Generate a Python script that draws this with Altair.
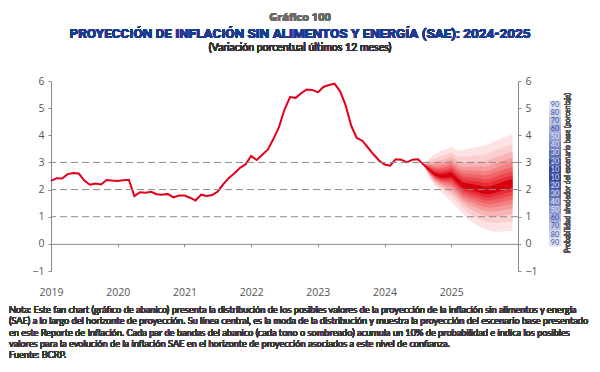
import altair as alt
import pandas as pd

# ---------------- data ----------------
year_ticks = [2019, 2020, 2021, 2022, 2023, 2024, 2025]

# monthly SAE inflation, Jan-2019 .. Sep-2024 (index 0..68)
hist_values = [
    2.32, 2.42, 2.41, 2.57, 2.61, 2.59, 2.33, 2.18, 2.22, 2.19, 2.35, 2.33,
    2.32, 2.34, 2.36, 1.76, 1.90, 1.88, 1.92, 1.83, 1.81, 1.84, 1.71, 1.78,
    1.78, 1.70, 1.60, 1.81, 1.76, 1.80, 1.93, 2.20, 2.43, 2.60, 2.80, 2.93,
    3.24, 3.09, 3.28, 3.47, 3.86, 4.30, 4.95, 5.41, 5.38, 5.55, 5.69, 5.67,
    5.58, 5.78, 5.85, 5.90, 5.62, 5.10, 4.35, 3.90, 3.80, 3.55, 3.30, 3.07,
    2.92, 2.88, 3.12, 3.10, 3.00, 3.10, 3.12, 2.92, 2.73,
]

# fan chart: month index 67 .. 83 (Aug-2024 .. Dec-2025)
fan_index = list(range(67, 84))
fan_mode = [2.92, 2.73, 2.55, 2.48, 2.49, 2.55, 2.35, 2.15, 2.10, 2.06, 2.02,
            1.95, 1.97, 2.03, 2.10, 2.17, 2.22]
fan_upper90 = [2.92, 3.15, 3.30, 3.40, 3.48, 3.58, 3.45, 3.45, 3.50, 3.55, 3.58,
               3.62, 3.70, 3.80, 3.88, 3.96, 4.02]
fan_lower90 = [2.92, 2.45, 2.15, 1.95, 1.75, 1.55, 1.35, 1.12, 0.92, 0.76, 0.64,
               0.55, 0.48, 0.45, 0.45, 0.47, 0.48]

band_levels = [90, 80, 70, 60, 50, 40, 30, 20, 10]
band_fraction = [1.00, 0.80, 0.65, 0.53, 0.43, 0.34, 0.25, 0.17, 0.09]
band_colors = ["#fde3e3", "#fbcfcf", "#f9b5b5", "#f69a9b", "#f37f81",
               "#f06468", "#ec4850", "#e72c37", "#d6000f"]

grid_values = [1, 2, 3]

legend_labels = ["90", "80", "70", "60", "50", "40", "30", "20", "10",
                 "10", "20", "30", "40", "50", "60", "70", "80", "90"]
legend_fill = {"90": "#dfe3f2", "80": "#cfd5ec", "70": "#bcc4e4", "60": "#a6b0da",
               "50": "#8f9bcf", "40": "#7685c3", "30": "#5e6fb6", "20": "#4659a9",
               "10": "#30449b"}
legend_text_color = {"90": "#3a4ea3", "80": "#3a4ea3", "70": "#3a4ea3", "60": "#33479d",
                     "50": "#e6eaf8", "40": "#e6eaf8", "30": "#e6eaf8", "20": "#e6eaf8",
                     "10": "#e6eaf8"}

note_lines = [
    "Nota: Este fan chart (gráfico de abanico) presenta la distribución de los posibles valores de la proyección de la inflación sin alimentos y energía",
    "(SAE) a lo largo del horizonte de proyección. Su línea central, es la moda de la distribución y muestra la proyección del escenario base presentado",
    "en este Reporte de Inflación. Cada par de bandas del abanico (cada tono o sombreado) acumula un 10% de probabilidad e indica los posibles",
    "valores para la evolución de la inflación SAE en el horizonte de proyección asociados a este nivel de confianza.",
    "Fuente: BCRP.",
]

# ---------------- tables ----------------
W, H = 467, 190
Y_MIN, Y_MAX = -1, 6
zero_from_bottom = H * (0 - Y_MIN) / (Y_MAX - Y_MIN)

hist_df = pd.DataFrame({
    "x": [2019 + i / 12 for i in range(len(hist_values))],
    "v": hist_values,
})

fan_rows = []
for lvl, frac in zip(band_levels, band_fraction):
    for i, m, up, lo in zip(fan_index, fan_mode, fan_upper90, fan_lower90):
        fan_rows.append({
            "level": lvl,
            "x": 2019 + i / 12,
            "lo": m - (m - lo) * frac,
            "hi": m + (up - m) * frac,
        })
fan_df = pd.DataFrame(fan_rows)

grid_df = pd.DataFrame({"v": grid_values})

legend_df = pd.DataFrame({
    "pos": list(range(len(legend_labels))),
    "label": legend_labels,
    "fill": [legend_fill[l] for l in legend_labels],
    "tcol": [legend_text_color[l] for l in legend_labels],
})

FONT = "Open Sans"
NARROW = "Roboto"
TEXTF = "Lato"
AX_COL = "#8a8a8a"
LAB_COL = "#555555"

x_enc = alt.X(
    "x:Q",
    scale=alt.Scale(domain=[2019, 2026], nice=False, zero=False),
    axis=alt.Axis(
        values=year_ticks, format="d", title=None, grid=False,
        offset=-zero_from_bottom, tickSize=3, labelPadding=zero_from_bottom + 13,
        domainColor=AX_COL, tickColor=AX_COL, labelColor=LAB_COL,
        labelFont=FONT, labelFontSize=10.5, labelFlush=False, labelOverlap=False,
    ),
)
y_scale = alt.Scale(domain=[Y_MIN, Y_MAX], nice=False, zero=False)
y_left_axis = alt.Axis(
    values=list(range(Y_MIN, Y_MAX + 1)), title=None, grid=False, orient="left",
    tickSize=3, labelPadding=4, domainColor=AX_COL, tickColor=AX_COL,
    labelColor=LAB_COL, labelFont=FONT, labelFontSize=10.5,
)
y_right_axis = alt.Axis(
    values=list(range(Y_MIN, Y_MAX + 1)), title=None, grid=False, orient="right",
    tickSize=3, labelPadding=4, domainColor=AX_COL, tickColor=AX_COL,
    labelColor=LAB_COL, labelFont=FONT, labelFontSize=10.5,
)

# ---------------- layers ----------------
fan_layers = []
for lvl, col in zip(band_levels, band_colors):
    fan_layers.append(
        alt.Chart(fan_df).transform_filter(alt.datum.level == lvl)
        .mark_area(color=col, opacity=1, interpolate="linear")
        .encode(x=x_enc, y=alt.Y("lo:Q", scale=y_scale, axis=y_left_axis), y2="hi:Q")
    )

line = alt.Chart(hist_df).mark_line(color="#e2001a", strokeWidth=2).encode(
    x=x_enc, y=alt.Y("v:Q", scale=y_scale, axis=y_left_axis)
)

grid = alt.Chart(grid_df).mark_rule(color="#8c8c8c", strokeDash=[7, 4], strokeWidth=1).encode(
    y=alt.Y("v:Q", scale=y_scale, axis=y_left_axis)
)

main = alt.layer(*fan_layers, line, grid)

right_axis = alt.Chart(hist_df).mark_line(opacity=0).encode(
    x=x_enc, y=alt.Y("v:Q", scale=y_scale, axis=y_right_axis)
)

leg_y = alt.Y("pos:O", axis=None,
              scale=alt.Scale(range=[19.7, 165.7], paddingInner=0, paddingOuter=0))
legend_boxes = alt.Chart(legend_df).mark_rect().encode(
    x=alt.value(498), x2=alt.value(510), y=leg_y,
    fill=alt.Fill("fill:N", scale=None),
)
legend_text = alt.Chart(legend_df).mark_text(
    font=TEXTF, fontSize=7.2, align="center", baseline="middle"
).encode(
    x=alt.value(504), y=leg_y, text="label:N", color=alt.Color("tcol:N", scale=None),
)
legend_title = alt.Chart(legend_df).mark_text(
    font=TEXTF, fontSize=6.8, angle=270, align="center", baseline="middle", color="#555555"
).encode(
    x=alt.value(517), y=alt.value(92),
    text=alt.value("Probabilidad alrededor del escenario base (porcentaje)"),
)

title_small = alt.Chart(legend_df).mark_text(
    font=FONT, fontSize=11, fontWeight="bold", color="#6b6b6b", align="center", baseline="middle"
).encode(x=alt.value(249), y=alt.value(-63), text=alt.value("Gráfico 100"))
title_main = alt.Chart(legend_df).mark_text(
    font=NARROW, fontSize=13.5, fontWeight="bold", color="#1d3c8f", align="center", baseline="middle"
).encode(x=alt.value(249), y=alt.value(-47),
         text=alt.value("PROYECCIÓN DE INFLACIÓN SIN ALIMENTOS Y ENERGÍA (SAE): 2024-2025"))
title_sub = alt.Chart(legend_df).mark_text(
    font=TEXTF, fontSize=10.5, color="#333333", align="center", baseline="middle"
).encode(x=alt.value(249), y=alt.value(-33),
         text=alt.value("(Variación porcentual últimos 12 meses)"))

note = alt.Chart(legend_df).mark_text(
    font=TEXTF, fontSize=9.2, color="#3a3a3a", align="left", baseline="top", lineHeight=11.3
).encode(x=alt.value(-42), y=alt.value(225), text=alt.value(note_lines))

chart = alt.layer(
    main, right_axis, legend_boxes, legend_text, legend_title,
    title_small, title_main, title_sub, note,
).resolve_scale(y="independent").properties(
    width=W, height=H,
    autosize=alt.AutoSizeParams(type="none"),
    padding={"left": 43, "top": 73, "right": 74, "bottom": 93},
    background="white",
).configure_view(stroke=None)

chart.save("out.html", embed_options={"renderer": "svg", "actions": False})
